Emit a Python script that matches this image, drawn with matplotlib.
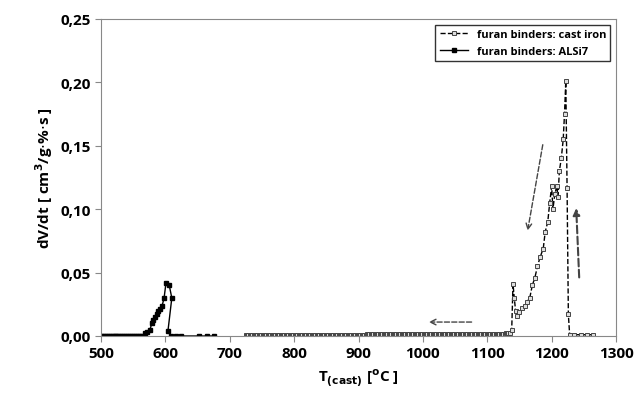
import matplotlib
matplotlib.use("Agg")
import matplotlib.pyplot as plt
import numpy as np

plt.rcParams['font.family'] = ['Open Sans', 'DejaVu Sans']

# cast iron (furan binders)
ci_T = list(np.arange(725, 1136, 2)) + [1138, 1140, 1142, 1144, 1146, 1150, 1154, 1158, 1162, 1166,
                                         1170, 1174, 1178, 1182, 1187, 1190, 1194, 1197, 1200, 1202,
                                         1205, 1208, 1210, 1212, 1215, 1218, 1220, 1222, 1224, 1226,
                                         1228, 1235, 1245, 1255, 1265]
ci_base = [0.0005 + 0.0015 * (t - 725) / 410 for t in np.arange(725, 1136, 2)]
ci_V = ci_base + [0.005, 0.041, 0.030, 0.020, 0.016, 0.019, 0.022, 0.024, 0.027, 0.030,
                  0.040, 0.046, 0.055, 0.062, 0.069, 0.082, 0.090, 0.105, 0.118, 0.100,
                  0.112, 0.118, 0.110, 0.130, 0.140, 0.155, 0.175, 0.201, 0.117, 0.017,
                  0.001, 0.001, 0.001, 0.001, 0.001]

# ALSi7 (furan binders)
al_T = list(np.arange(500, 566, 3)) + [568, 572, 576, 579, 581, 584, 587, 589, 592, 595, 598, 601,
                                       606, 610, 604, 608, 616, 624, 652, 665, 676]
al_V = [0.0] * len(np.arange(500, 566, 3)) + [0.002, 0.003, 0.005, 0.010, 0.013, 0.015, 0.017,
                                              0.020, 0.021, 0.024, 0.030, 0.042, 0.040, 0.030,
                                              0.004, 0.0, 0.0, 0.0, 0.0, 0.0, 0.0]

fig = plt.figure(figsize=(6.34, 4.10), dpi=100)
ax = fig.add_axes([101 / 634, 1 - 337 / 410, 515 / 634, 317 / 410])

ax.plot(ci_T, ci_V, '--', color='black', lw=1, marker='s', ms=3.2,
        mfc='#dddddd', mec='#444444', mew=0.7, label='furan binders: cast iron')
ax.plot(al_T, al_V, '-', color='black', lw=1, marker='s', ms=3,
        mfc='black', mec='black', label='furan binders: ALSi7')

arrow = dict(arrowstyle='->', linestyle='--', color='#444444', lw=1)
ax.annotate('', xy=(1005, 0.011), xytext=(1080, 0.011), arrowprops=arrow)
ax.annotate('', xy=(1162, 0.081), xytext=(1187, 0.153), arrowprops=arrow)
ax.annotate('', xy=(1238, 0.103), xytext=(1243, 0.044),
            arrowprops=dict(arrowstyle='-|>', linestyle='--', color='#444444', lw=1.5))

ax.set_xlim(500, 1300)
ax.set_ylim(0, 0.25)
ax.set_xticks(np.arange(500, 1301, 100))
ax.set_yticks(np.arange(0, 0.251, 0.05))
ax.set_yticklabels([f"{v:.2f}".replace('.', ',') for v in np.arange(0, 0.251, 0.05)])
for lab in ax.get_xticklabels() + ax.get_yticklabels():
    lab.set_fontweight('bold')
    lab.set_fontsize(11)
ax.tick_params(length=4, color='#888888')
for s in ax.spines.values():
    s.set_color('#888888')

ax.set_xlabel(r'T$_{\mathbf{(cast)}}$ [$^{\mathbf{o}}$C ]', fontsize=11, fontweight='bold')
ax.set_ylabel(r'dV/dt [ cm$^{\mathbf{3}}$/g$\cdot$%$\cdot$s ]', fontsize=11, fontweight='bold')

leg = ax.legend(loc='upper right', prop={'weight': 'bold', 'size': 8},
                fancybox=False, edgecolor='black', handlelength=2.5)
fig.savefig('out.png', dpi=100)
